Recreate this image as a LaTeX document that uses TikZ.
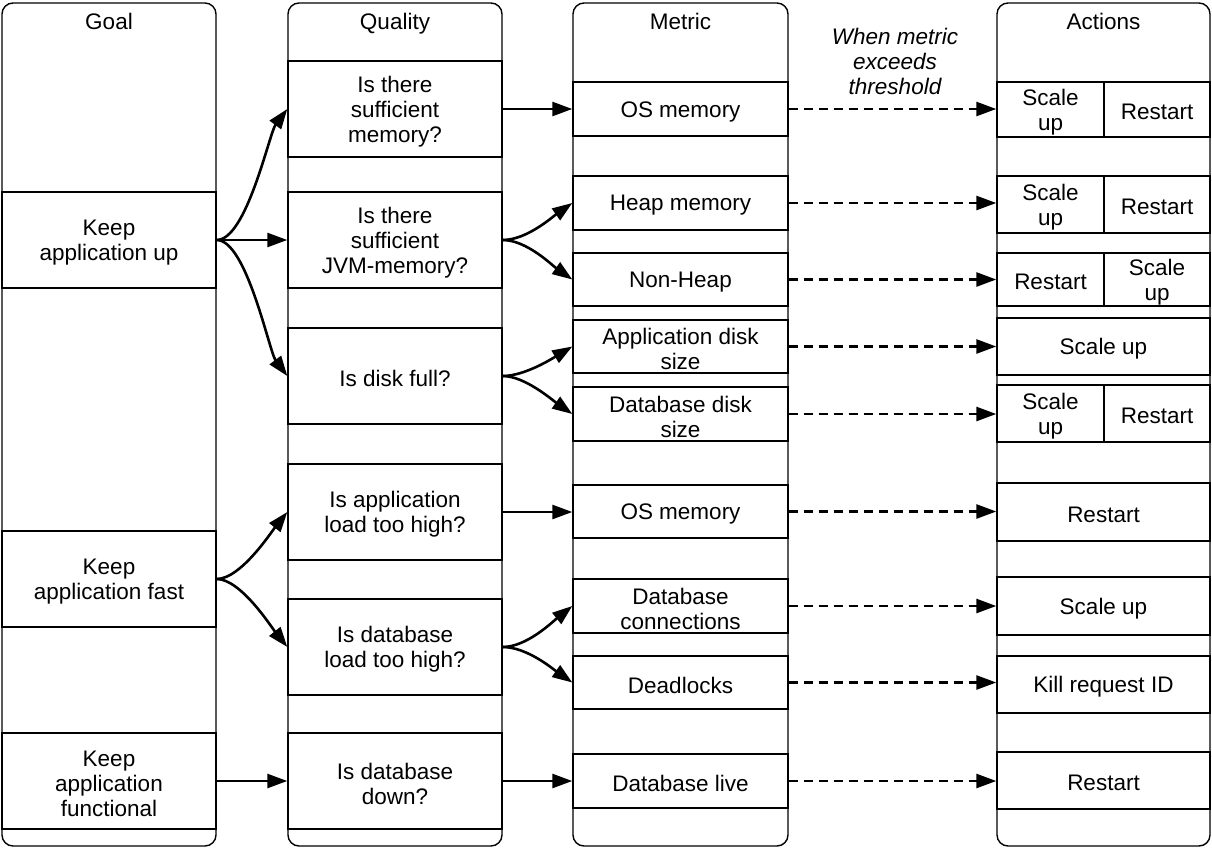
\documentclass[tikz,border=0pt]{standalone}
\usepackage{fontspec}
\setmainfont{Liberation Sans}
\usetikzlibrary{arrows.meta}
\newcommand\diagfont{\fontsize{22.5}{25}\selectfont}
% \cellbox{name}{x1}{y1}{x2}{y2}{text}: a framed row with its text centred
\newcommand\cellbox[6]{%
  \node[cell, minimum width={#4-#2}, minimum height={#5-#3},
        label={[celltext]center:{#6}}] (#1)
    at ({(#2+#4)/2},{(#3+#5)/2}) {};}
\begin{document}
\begin{tikzpicture}[x=1pt,y=-1pt,
  lane/.style={draw, line width=1.4pt, rounded corners=11pt, inner sep=0pt},
  cell/.style={draw, line width=1.4pt, inner sep=0pt},
  celltext/.style={inner sep=0pt, align=center, font=\diagfont, yshift=-2.5pt},
  hdr/.style={inner sep=0pt, font=\diagfont, anchor=base},
  arr/.style={line width=2.6pt, -{Triangle[length=20pt,width=14pt]}},
  dasharr/.style={arr, dash pattern=on 9pt off 6pt}
]
\useasboundingbox (0,0) rectangle (1212,848);

% lanes
\node[lane, minimum width=214pt, minimum height=843pt] (goal) at (109,424.5) {};
\node[lane, minimum width=214pt, minimum height=843pt] (quality) at (395,424.5) {};
\node[lane, minimum width=215pt, minimum height=843pt] (metric) at (680.5,424.5) {};
\node[lane, minimum width=213pt, minimum height=843pt] (actions) at (1103.5,424.5) {};

\node[hdr] (goalh) at (109,30) {Goal};
\node[hdr] (qualh) at (395,30) {Quality};
\node[hdr] (meth) at (680.5,30) {Metric};
\node[hdr] (acth) at (1103.5,30) {Actions};

% goals
\cellbox{g1}{2}{192}{216}{288}{Keep\\application up}
\cellbox{g2}{2}{531}{216}{627}{Keep\\application fast}
\cellbox{g3}{2}{733}{216}{829}{Keep\\application\\functional}

% qualities
\cellbox{q1}{288}{61}{502}{157}{Is there\\sufficient\\memory?}
\cellbox{q2}{288}{192}{502}{288}{Is there\\sufficient\\JVM-memory?}
\cellbox{q3}{288}{328}{502}{424}{Is disk full?}
\cellbox{q4}{288}{464}{502}{560}{Is application\\load too high?}
\cellbox{q5}{288}{599}{502}{695}{Is database\\load too high?}
\cellbox{q6}{288}{733}{502}{829}{Is database\\down?}

% metrics
\cellbox{m1}{573}{82}{788}{136}{OS memory}
\cellbox{m2}{573}{176}{788}{230}{Heap memory}
\cellbox{m3}{573}{253}{788}{306}{Non-Heap}
\cellbox{m4}{573}{320}{788}{373}{Application disk\\size}
\cellbox{m5}{573}{387}{788}{441}{Database disk\\size}
\cellbox{m6}{573}{485}{788}{538}{OS memory}
\cellbox{m7}{573}{579}{788}{633}{Database\\connections}
\cellbox{m8}{573}{656}{788}{709}{Deadlocks}
\cellbox{m9}{573}{754}{788}{808}{Database live}

% actions
\cellbox{a1l}{997}{82}{1104}{137}{Scale\\up}
\cellbox{a1r}{1104}{82}{1210}{137}{Restart}
\cellbox{a2l}{997}{176}{1104}{233}{Scale\\up}
\cellbox{a2r}{1104}{176}{1210}{233}{Restart}
\cellbox{a3l}{997}{253}{1104}{306}{Restart}
\cellbox{a3r}{1104}{253}{1210}{306}{Scale\\up}
\cellbox{a4}{997}{318}{1210}{375}{Scale up}
\cellbox{a5l}{997}{385}{1104}{442}{Scale\\up}
\cellbox{a5r}{1104}{385}{1210}{442}{Restart}
\cellbox{a6}{997}{483}{1210}{541}{Restart}
\cellbox{a7}{997}{577}{1210}{635}{Scale up}
\cellbox{a8}{997}{656}{1210}{713}{Kill request ID}
\cellbox{a9}{997}{752}{1210}{809}{Restart}

\node[inner sep=0pt, font=\diagfont\itshape, align=center] (note) at (895,61)
  {When metric\\exceeds\\threshold};

% goal -> quality
\draw[arr] (g1.east) .. controls +(30,0) and +(-18,24) .. (q1.west);
\draw[arr] (g1.east) -- (q2.west);
\draw[arr] (g1.east) .. controls +(30,0) and +(-18,-24) .. (q3.west);
\draw[arr] (g2.east) .. controls +(24,0) and +(-16,20) .. (q4.west);
\draw[arr] (g2.east) .. controls +(24,0) and +(-16,-20) .. (q5.west);
\draw[arr] (g3.east) -- (q6.west);

% quality -> metric
\draw[arr] (q1.east) -- (q1.east -| m1.west);
\draw[arr] (q2.east) .. controls +(24,0) and +(-20,14) .. (m2.west);
\draw[arr] (q2.east) .. controls +(24,0) and +(-20,-14) .. (m3.west);
\draw[arr] (q3.east) .. controls +(22,0) and +(-20,12) .. (m4.west);
\draw[arr] (q3.east) .. controls +(22,0) and +(-20,-14) .. (m5.west);
\draw[arr] (q4.east) -- (q4.east -| m6.west);
\draw[arr] (q5.east) .. controls +(24,0) and +(-20,16) .. (m7.west);
\draw[arr] (q5.east) .. controls +(24,0) and +(-20,-14) .. (m8.west);
\draw[arr] (q6.east) -- (q6.east -| m9.west);

% metric -> actions
\foreach \m in {m1,m2,m3,m4,m5,m6,m7,m8,m9}
  \draw[dasharr] (\m.east) -- (\m.east -| actions.west);
\end{tikzpicture}
\end{document}
